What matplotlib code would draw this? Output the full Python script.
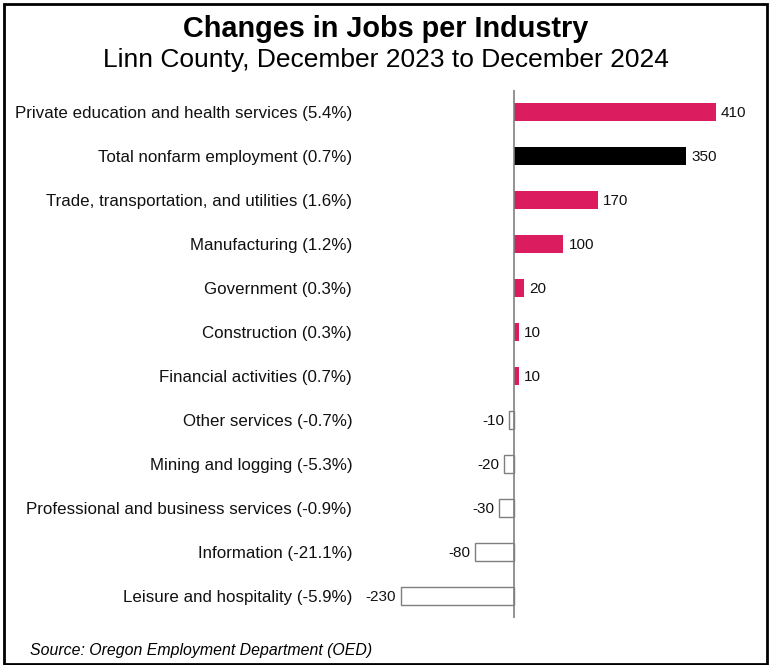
import matplotlib
matplotlib.use("Agg")
import matplotlib.pyplot as plt
from matplotlib.patches import Rectangle

plt.rcParams['font.family'] = ['Liberation Sans', 'DejaVu Sans']

categories = [
    "Private education and health services (5.4%)",
    "Total nonfarm employment (0.7%)",
    "Trade, transportation, and utilities (1.6%)",
    "Manufacturing (1.2%)",
    "Government (0.3%)",
    "Construction (0.3%)",
    "Financial activities (0.7%)",
    "Other services (-0.7%)",
    "Mining and logging (-5.3%)",
    "Professional and business services (-0.9%)",
    "Information (-21.1%)",
    "Leisure and hospitality (-5.9%)",
]
values = [410, 350, 170, 100, 20, 10, 10, -10, -20, -30, -80, -230]
total_label = "Total nonfarm employment (0.7%)"

W, H = 772, 665
fig = plt.figure(figsize=(W / 100, H / 100), dpi=100)

# axes in pixel coords
ax_left, ax_right, ax_top, ax_bottom = 380, 760, 90, 618
ax = fig.add_axes([ax_left / W, 1 - ax_bottom / H, (ax_right - ax_left) / W, (ax_bottom - ax_top) / H])

pink = "#DB1D60"
ypos = list(range(len(categories)))
for y, c, v in zip(ypos, categories, values):
    if v < 0:
        ax.barh(y, v, height=0.4, color="white", edgecolor="#7f7f7f", linewidth=1.0, zorder=2)
        ax.text(v - 9, y + 0.03, f"{v}", ha="right", va="center", fontsize=11, color="#111111")
    else:
        col = "black" if c == total_label else pink
        ax.barh(y, v, height=0.4, color=col, edgecolor="none", zorder=2)
        ax.text(v + 11, y + 0.03, f"{v}", ha="left", va="center", fontsize=11, color="#111111")

ax.set_xlim(-272, 500)
ax.set_ylim(len(categories) - 0.5, -0.5)
ax.axvline(0, color="#808080", linewidth=1.2, zorder=3)
ax.set_xticks([])
ax.set_yticks(ypos)
ax.set_yticklabels(categories, fontsize=12.2, color="#111111")
ax.tick_params(axis="y", length=0, pad=20)
for s in ax.spines.values():
    s.set_visible(False)

fig.text(0.5, 1 - 37 / H, "Changes in Jobs per Industry", ha="center", va="baseline",
         fontsize=20.8, fontweight="bold", color="black")
fig.text(0.5, 1 - 67 / H, "Linn County, December 2023 to December 2024", ha="center", va="baseline",
         fontsize=19, color="black")
fig.text(30 / W, 1 - 650 / H, "Source: Oregon Employment Department (OED)", ha="left", va="center",
         fontsize=11.4, style="italic", color="black")

fig.patches.append(Rectangle((4 / W, 1 - 664 / H), (767 - 4) / W, (664 - 4) / H,
                             transform=fig.transFigure, fill=False, edgecolor="black", linewidth=2))

fig.savefig("out.png", dpi=100)
